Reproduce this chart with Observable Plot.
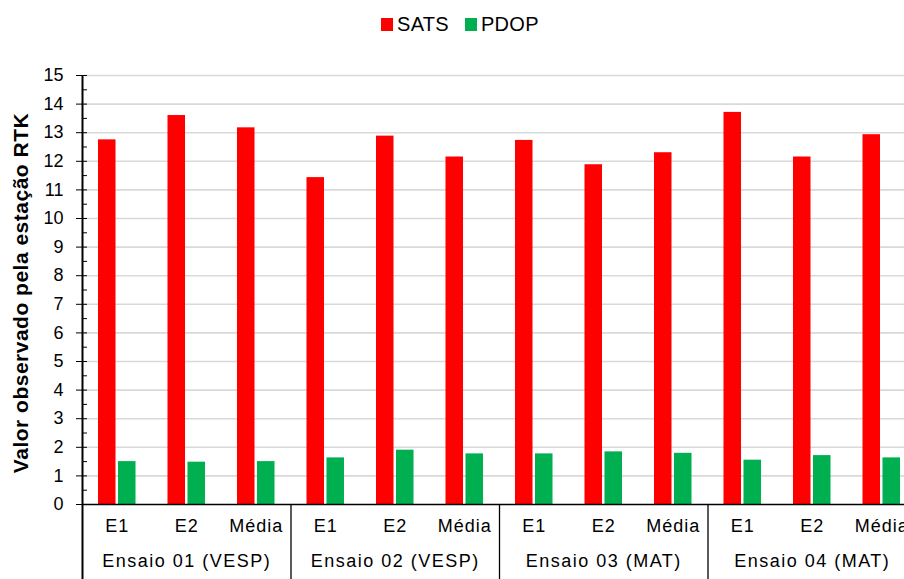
<!DOCTYPE html>
<html>
<head>
<meta charset="utf-8">
<script src="https://cdn.jsdelivr.net/npm/d3@7"></script>
<script src="https://cdn.jsdelivr.net/npm/@observablehq/plot@0.6"></script>
<style>
  html, body { margin: 0; padding: 0; background: #fff; overflow: hidden; }
  #wrap { position: relative; width: 904px; height: 579px; overflow: hidden; font-family: "Liberation Sans", Arial, sans-serif; }
  #legend { position: absolute; top: 13px; left: 381px; display: flex; align-items: center; font-size: 20px; letter-spacing: 0.3px; color: #000; z-index: 2; }
  #legend .item { display: flex; align-items: center; margin-right: 16px; }
  #legend .sw { width: 12px; height: 13px; margin-right: 4px; }
  #chart { position: absolute; top: 0; left: 0; width: 930px; }
  #chart svg { max-width: none !important; }
  #chart g[aria-description="category-labels"] text { letter-spacing: 1px; }
  #chart g[aria-description="group-labels"] text { letter-spacing: 1.5px; }
  #chart g[aria-description="axis-title"] text { letter-spacing: 0.5px; }
</style>
</head>
<body>
<div id="wrap">
  <div id="legend"></div>
  <div id="chart"></div>
</div>
<script>
// Trials and the readings taken in each
const groups = ["Ensaio 01 (VESP)", "Ensaio 02 (VESP)", "Ensaio 03 (MAT)", "Ensaio 04 (MAT)"];
const subLabels = ["E1", "E2", "Média"];
// Number of satellites tracked (SATS), in group order
const sats = [12.75, 13.60, 13.17, 11.43, 12.88, 12.15, 12.73, 11.88, 12.30, 13.71, 12.15, 12.93];
// Position dilution of precision (PDOP), in group order
const pdop = [1.50, 1.48, 1.50, 1.63, 1.90, 1.77, 1.77, 1.84, 1.79, 1.55, 1.71, 1.63];
const yTicks = [0, 1, 2, 3, 4, 5, 6, 7, 8, 9, 10, 11, 12, 13, 14, 15];
const yMinor = [0.5, 1.5, 2.5, 3.5, 4.5, 5.5, 6.5, 7.5, 8.5, 9.5, 10.5, 11.5, 12.5, 13.5, 14.5];
const seriesNames = ["SATS", "PDOP"];
const seriesColors = ["#ff0000", "#00b050"];
const yTitle = "Valor observado pela estação RTK";

const keyOf = (g, s) => `${g}|${s}`;
const rows = groups.flatMap((g, gi) => subLabels.map((s, si) => ({
  group: g, sub: s, key: keyOf(g, s),
  sats: sats[gi * 3 + si], pdop: pdop[gi * 3 + si]
})));
const keys = rows.map(d => d.key);

const W = 930, H = 579, mL = 82, mR = 14, mT = 75, mB = 75;
const step = (W - mL - mR) / keys.length;
const font = "Liberation Sans, Arial, sans-serif";

const chart = Plot.plot({
  width: W, height: H,
  marginLeft: mL, marginRight: mR, marginTop: mT, marginBottom: mB,
  style: { fontFamily: font, background: "white", color: "#000", maxWidth: "none" },
  x: { type: "band", domain: keys, paddingInner: 0.748, paddingOuter: 0.374, round: false, axis: null },
  y: { domain: [0, 15], axis: null },
  marks: [
    // horizontal gridlines
    Plot.ruleY(yTicks.filter(d => d > 0), { stroke: "#d9d9d9", strokeWidth: 1.6 }),
    // paired bars
    Plot.barY(rows, { x: "key", y: "sats", fill: seriesColors[0], dx: -10 }),
    Plot.barY(rows, { x: "key", y: "pdop", fill: seriesColors[1], dx: 10 }),
    // baseline
    Plot.ruleY([0], { stroke: "#000", strokeWidth: 1.5 }),
    // value axis line, running down through the category area
    Plot.ruleX([keys[0]], { y1: 15, y2: 0, insetBottom: -75, dx: -step / 2, stroke: "#000", strokeWidth: 2 }),
    // group separators below the baseline
    Plot.ruleX(groups.slice(1).map(g => keyOf(g, subLabels[0])), {
      y1: 0, y2: 0, insetBottom: -75, dx: -step / 2, stroke: "#000", strokeWidth: 1.3
    }),
    // major ticks crossing the axis, with labels
    Plot.axisY(yTicks, { tickSize: 11, dx: 5, tickPadding: 13, fontSize: 18, stroke: "#000", fill: "#000", label: null }),
    // minor ticks on the inner side
    Plot.axisY(yMinor, { tickSize: 5, dx: 5, fill: "none", stroke: "#000", label: null }),
    // category labels
    Plot.text(rows, { x: "key", text: "sub", frameAnchor: "bottom", dy: 27, fontSize: 18, fill: "#000", ariaDescription: "category-labels" }),
    // group labels, centred under the middle reading
    Plot.text(groups, { x: g => keyOf(g, subLabels[1]), text: g => g, frameAnchor: "bottom", dy: 62, fontSize: 18, fill: "#000", ariaDescription: "group-labels" }),
    // value axis title
    Plot.text([yTitle], { frameAnchor: "left", textAnchor: "middle", dx: -61, dy: 3, rotate: -90, fontSize: 21, fontWeight: "bold", fill: "#000", ariaDescription: "axis-title" })
  ]
});
document.getElementById("chart").appendChild(chart);

const legend = document.getElementById("legend");
seriesNames.forEach((name, i) => {
  const item = document.createElement("div");
  item.className = "item";
  const sw = document.createElement("span");
  sw.className = "sw";
  sw.style.background = seriesColors[i];
  const label = document.createElement("span");
  label.textContent = name;
  item.append(sw, label);
  legend.appendChild(item);
});
</script>
</body>
</html>
